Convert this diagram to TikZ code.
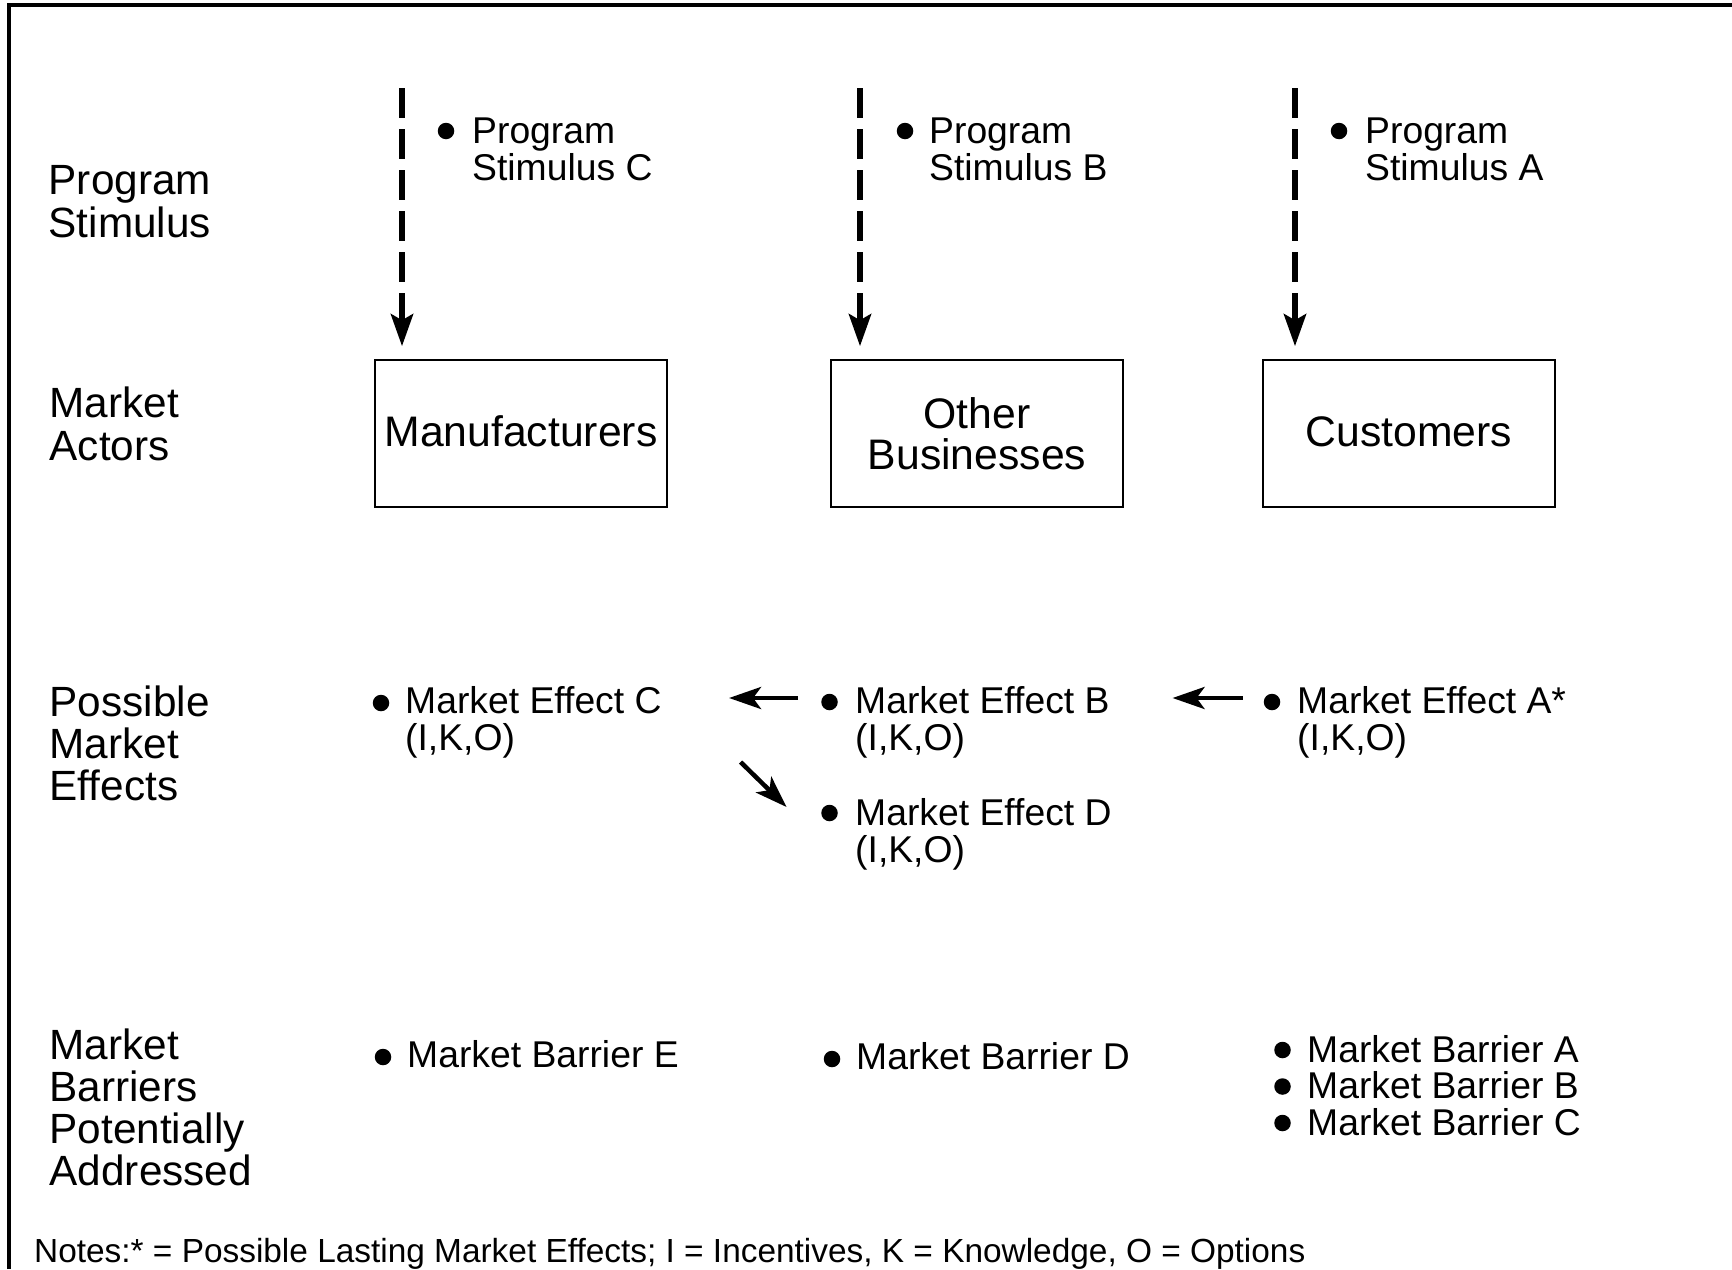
\documentclass[tikz,border=0pt]{standalone}
\usepackage{fontspec}
\setmainfont{Liberation Sans}
\usetikzlibrary{arrows.meta}
\tikzset{
 lbl/.style={anchor=base west, align=left, inner sep=0pt, font=\fontsize{42.3}{42.5}\selectfont},
 itm/.style={anchor=base west, align=left, inner sep=0pt, font=\fontsize{37.3}{37}\selectfont},
 bul/.style={circle, fill, inner sep=0pt, minimum size=16.5pt},
 actor/.style={draw, line width=1.5pt, minimum width=292pt, minimum height=147pt, align=center, inner sep=0pt, font=\fontsize{42.7}{41.5}\selectfont},
 oneline/.style={text height=25pt, text depth=0pt},
 stimarrow/.style={line width=6pt, dash pattern=on 30pt off 11pt, -{Stealth[length=32pt,width=22pt,inset=6pt]}},
 effarrow/.style={line width=4.5pt, -{Stealth[length=32pt,width=22pt,inset=8pt]}},
 frameline/.style={line width=4pt}
}
\begin{document}
\begin{tikzpicture}[x=1pt,y=-1pt]
\useasboundingbox (0,0) rectangle (1732,1269);
% frame
\draw[frameline] (9.3,1269) -- (9.3,5) -- (1732,5);

% row labels (anchor = baseline of last line)
\node[lbl] (l1) at (48.5,237) {Program\\Stimulus};
\node[lbl] (l2) at (49.5,460) {Market\\Actors};
\node[lbl, font=\fontsize{42.3}{42}\selectfont] (l3) at (49.5,800) {Possible\\Market\\Effects};
\node[lbl, font=\fontsize{42.3}{41.7}\selectfont] (l4) at (49.5,1185) {Market\\Barriers\\Potentially\\Addressed};

% program stimuli
\node[bul] (bsC) at (446,131) {};
\node[itm] (sC) at (472,180) {Program\\Stimulus C};
\node[bul] (bsB) at (905,131) {};
\node[itm] (sB) at (929,180) {Program\\Stimulus B};
\node[bul] (bsA) at (1339,131) {};
\node[itm] (sA) at (1365,180) {Program\\Stimulus A};

% actors
\node[actor, oneline] (man) at (521,433.5) {Manufacturers};
\node[actor] (oth) at (977,433.5) {Other\\Businesses};
\node[actor, oneline] (cus) at (1409,433.5) {Customers};

% dashed stimulus arrows
\coordinate (dC) at (402,88);
\coordinate (dB) at (860,88);
\coordinate (dA) at (1295,88);
\draw[stimarrow, shorten >=13pt] (dC) -- (dC |- man.north);
\draw[stimarrow, shorten >=13pt] (dB) -- (dB |- oth.north);
\draw[stimarrow, shorten >=13pt] (dA) -- (dA |- cus.north);

% market effects
\node[bul] (beC) at (381,703) {};
\node[itm] (eC) at (405,750) {Market Effect C\\(I,K,O)};
\node[bul] (beB) at (829.5,702) {};
\node[itm] (eB) at (855,750) {Market Effect B\\(I,K,O)};
\node[bul] (beA) at (1272,702) {};
\node[itm] (eA) at (1297,750) {Market Effect A*\\(I,K,O)};
\node[bul] (beD) at (829.5,813) {};
\node[itm] (eD) at (855,862) {Market Effect D\\(I,K,O)};

\draw[effarrow] (beB.west) ++(-23,-4) -- ++(-69,0);
\draw[effarrow] (beA.west) ++(-21,-4) -- ++(-70,0);
\draw[effarrow] (beD.west) ++(-80.5,-51) -- ++(46,45);

% market barriers
\node[bul] (bbE) at (383,1057) {};
\node[itm] (mbE) at (407,1067) {Market Barrier E};
\node[bul] (bbD) at (832,1059) {};
\node[itm] (mbD) at (856,1069) {Market Barrier D};
\node[bul] (bbA) at (1282.5,1050) {};
\node[bul] (bbB) at (1282.5,1086.5) {};
\node[bul] (bbC) at (1282.5,1123) {};
\node[itm, font=\fontsize{37.3}{36.5}\selectfont] (mbABC) at (1307,1135) {Market Barrier A\\Market Barrier B\\Market Barrier C};

% notes
\node[anchor=base west, inner sep=0pt, font=\fontsize{33.4}{36}\selectfont] (notes) at (34,1262.6) {Notes:* = Possible Lasting Market Effects; I = Incentives, K = Knowledge, O = Options};
\end{tikzpicture}
\end{document}
